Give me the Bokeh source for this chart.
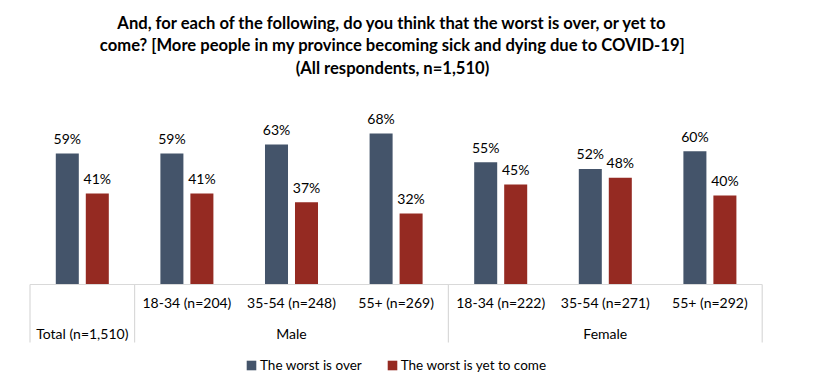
from bokeh.plotting import figure
from bokeh.models import ColumnDataSource, Range1d, Label, Legend, LegendItem
from bokeh.core.properties import value
from bokeh.embed import file_html
from bokeh.resources import INLINE

# ---- data ----
sub_labels = ["", "18-34 (n=204)", "35-54 (n=248)", "55+ (n=269)",
              "18-34 (n=222)", "35-54 (n=271)", "55+ (n=292)"]
groups = ["Total (n=1,510)", "Male", "Female"]
group_spans = [(0, 1), (1, 4), (4, 7)]
worst_over = [59, 59, 63, 68, 55, 52, 60]
worst_to_come = [41, 41, 37, 32, 45, 48, 40]
series_names = ["The worst is over", "The worst is yet to come"]
title_lines = [
    "And, for each of the following, do you think that the worst is over, or yet to",
    "come? [More people in my province becoming sick and dying due to COVID-19]",
    "(All respondents, n=1,510)",
]

BLUE = "#44546a"
RED = "#952a22"
GRID = "#d9d9d9"
FONT = "Lato"

W, H = 797, 376
px_per_cat = 104.6
px_per_pct = 2.222
x0_px = 29.5
base_px = 284

p = figure(width=W, height=H, output_backend="svg", toolbar_location=None,
           min_border=0, x_axis_type=None, y_axis_type=None)
p.x_range = Range1d(-x0_px / px_per_cat, (W - x0_px) / px_per_cat)
p.y_range = Range1d(-(H - base_px) / px_per_pct, base_px / px_per_pct)
p.outline_line_color = None
p.grid.visible = False
p.background_fill_color = "white"

n = len(worst_over)
centers = [i + 0.5 for i in range(n)]
off = 0.1434
bw = 0.22

src = ColumnDataSource(dict(
    xb=[c - off for c in centers], xr=[c + off for c in centers],
    over=worst_over, come=worst_to_come,
    over_lbl=[f"{v}%" for v in worst_over],
    come_lbl=[f"{v}%" for v in worst_to_come],
    xc=centers, sub=sub_labels, zero=[0] * n,
))

r1 = p.vbar(x="xb", top="over", width=bw, bottom=0, source=src,
            fill_color=BLUE, line_color=None)
r2 = p.vbar(x="xr", top="come", width=bw, bottom=0, source=src,
            fill_color=RED, line_color=None)

for xcol, ycol, tcol in [("xb", "over", "over_lbl"), ("xr", "come", "come_lbl")]:
    p.text(x=xcol, y=ycol, text=tcol, source=src, text_align="center",
           text_baseline="middle", y_offset=-15, text_font=value(FONT),
           text_font_size="14px", text_color="#000000")

# category axis drawn in data space
p.segment(x0=[0], y0=[0], x1=[n], y1=[0], line_color=GRID, line_width=1.2)
sep_depth = 58 / px_per_pct
sep_x = sorted(set([s for s, e in group_spans] + [e for s, e in group_spans]))
p.segment(x0=sep_x, y0=[0] * len(sep_x), x1=sep_x, y1=[-sep_depth] * len(sep_x),
          line_color=GRID, line_width=1.2)

p.text(x="xc", y="zero", text="sub", source=src, text_align="center",
       text_baseline="middle", y_offset=18, text_font=value(FONT),
       text_font_size="14px", text_color="#000000")
gsrc = ColumnDataSource(dict(
    x=[(s + e) / 2 for s, e in group_spans], y=[0] * len(groups), t=groups))
p.text(x="x", y="y", text="t", source=gsrc, text_align="center",
       text_baseline="middle", y_offset=49, text_font=value(FONT),
       text_font_size="14px", text_color="#000000")

# title
for i, line in enumerate(title_lines):
    p.add_layout(Label(x=392, y=H - 22 - 22.5 * i, x_units="screen", y_units="screen",
                       text=line, text_align="center", text_baseline="middle",
                       text_font=FONT, text_font_style="bold",
                       text_font_size="16.6px", text_color="#000000"))

legend = Legend(items=[LegendItem(label=series_names[0], renderers=[r1]),
                       LegendItem(label=series_names[1], renderers=[r2])],
                orientation="horizontal", location=(245, 3),
                glyph_width=12, glyph_height=12, label_standoff=3, spacing=24,
                padding=0, margin=0, border_line_color=None,
                background_fill_alpha=0, label_text_font=FONT,
                label_text_font_size="13.5px", label_text_color="#000000")
p.add_layout(legend, "center")

open("out.html", "w").write(file_html(p, INLINE))
